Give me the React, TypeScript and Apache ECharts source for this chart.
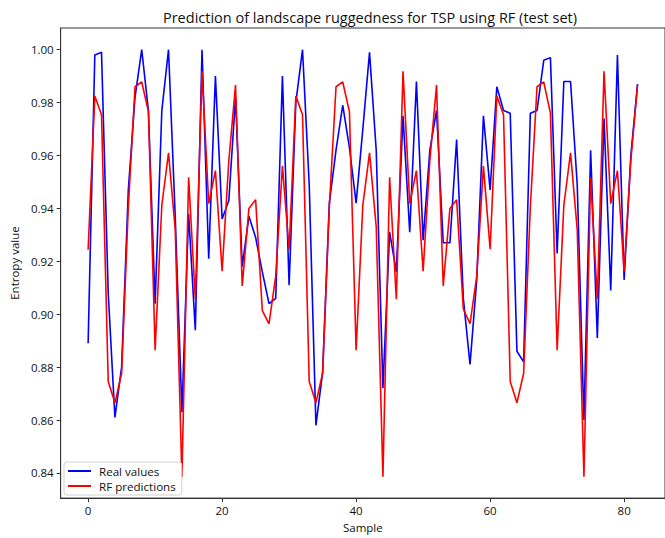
import React, { useEffect, useRef } from "react";
import * as echarts from "echarts";

const titleText = "Prediction of landscape ruggedness for TSP using RF (test set)";
const xLabel = "Sample";
const yLabel = "Entropy value";
const seriesNames = ["Real values", "RF predictions"];
const xTicks = [0, 20, 40, 60, 80];
const yTicks = [0.84, 0.86, 0.88, 0.9, 0.92, 0.94, 0.96, 0.98, 1.0];

const realValues = [
  0.889, 0.998, 0.999, 0.908, 0.861, 0.880, 0.947, 0.982, 1.000, 0.977,
  0.904, 0.977, 1.000, 0.937, 0.863, 0.938, 0.894, 1.000, 0.921, 0.990,
  0.936, 0.943, 0.982, 0.918, 0.937, 0.929, 0.916, 0.904, 0.906, 0.990,
  0.911, 0.980, 1.000, 0.949, 0.858, 0.878, 0.942, 0.962, 0.979, 0.963,
  0.942, 0.970, 0.999, 0.962, 0.872, 0.931, 0.916, 0.975, 0.931, 0.988,
  0.928, 0.962, 0.977, 0.927, 0.927, 0.966, 0.906, 0.881, 0.913, 0.975,
  0.947, 0.986, 0.977, 0.976, 0.886, 0.882, 0.976, 0.977, 0.996, 0.997,
  0.923, 0.988, 0.988, 0.949, 0.860, 0.962, 0.891, 0.974, 0.909, 0.998,
  0.913, 0.960, 0.987,
];

const rfPredictions = [
  0.9244, 0.9825, 0.9754, 0.8746, 0.8665, 0.8777, 0.9405, 0.986, 0.9878, 0.9766,
  0.8864, 0.9412, 0.961, 0.932, 0.8386, 0.9518, 0.9057, 0.9918, 0.9418, 0.9543,
  0.9163, 0.958, 0.9866, 0.9107, 0.94, 0.9433, 0.9014, 0.8964, 0.9144, 0.956,
  0.9244, 0.9825, 0.9754, 0.8746, 0.8665, 0.8777, 0.9405, 0.986, 0.9878, 0.9766,
  0.8864, 0.9412, 0.961, 0.933, 0.8386, 0.9518, 0.9057, 0.9918, 0.9418, 0.9543,
  0.9163, 0.958, 0.9866, 0.9107, 0.94, 0.9433, 0.902, 0.8964, 0.9144, 0.956,
  0.9246, 0.9825, 0.9754, 0.8746, 0.8665, 0.8777, 0.9405, 0.986, 0.9878, 0.976,
  0.8864, 0.9412, 0.961, 0.932, 0.8386, 0.9518, 0.9057, 0.9918, 0.9418, 0.9543,
  0.9163, 0.958, 0.9866,
];

const FONT = "'Open Sans', 'DejaVu Sans', sans-serif";

export default function App() {
  const ref = useRef<HTMLDivElement>(null);
  useEffect(() => {
    if (!ref.current) return;
    const chart = echarts.init(ref.current, undefined, { renderer: "svg" });
    const pairs = (arr: number[]) => arr.map((v, i) => [i, v]);
    chart.setOption({
      animation: false,
      backgroundColor: "#ffffff",
      textStyle: { fontFamily: FONT },
      title: {
        text: titleText,
        left: 365,
        top: 5,
        textAlign: "center",
        textStyle: { fontFamily: FONT, fontSize: 14.5, fontWeight: "normal", color: "#111" },
      },
      grid: {
        left: 59,
        top: 28,
        width: 612,
        height: 475,
        show: true,
        borderColor: "#333",
        borderWidth: 1,
        backgroundColor: "transparent",
      },
      legend: {
        orient: "vertical",
        left: 64,
        top: 462,
        padding: [3, 6, 3, 4],
        itemGap: 3,
        itemWidth: 23,
        itemHeight: 2,
        icon: "rect",
        borderColor: "#d0d0d0",
        borderWidth: 1,
        borderRadius: 3,
        backgroundColor: "rgba(255,255,255,0.8)",
        textStyle: { fontFamily: FONT, fontSize: 11.6, color: "#111", padding: [0, 0, 0, 3] },
        data: seriesNames,
      },
      xAxis: {
        type: "value",
        min: -4.1,
        max: 86.1,
        name: xLabel,
        nameLocation: "middle",
        nameGap: 18,
        nameTextStyle: { fontFamily: FONT, fontSize: 11.5, color: "#111" },
        axisLine: { show: true, onZero: false, lineStyle: { color: "#333", width: 1 } },
        axisTick: { show: true, length: 4, customValues: xTicks, lineStyle: { color: "#333" } },
        axisLabel: {
          customValues: xTicks,
          margin: 6,
          fontFamily: FONT,
          fontSize: 11.5,
          color: "#111",
          formatter: (v: number) => String(Math.round(v)),
        },
        splitLine: { show: false },
      },
      yAxis: {
        type: "value",
        min: 0.8305,
        max: 1.0082,
        name: yLabel,
        nameLocation: "middle",
        nameGap: 38,
        nameRotate: 90,
        nameTextStyle: { fontFamily: FONT, fontSize: 11.5, color: "#111" },
        axisLine: { show: true, onZero: false, lineStyle: { color: "#333", width: 1 } },
        axisTick: { show: true, length: 4, customValues: yTicks, lineStyle: { color: "#333" } },
        axisLabel: {
          customValues: yTicks,
          margin: 7,
          fontFamily: FONT,
          fontSize: 11.5,
          color: "#111",
          formatter: (v: number) => v.toFixed(2),
        },
        splitLine: { show: false },
      },
      series: [
        {
          name: seriesNames[0],
          type: "line",
          data: pairs(realValues),
          showSymbol: false,
          symbol: "none",
          color: "#0000ff",
          lineStyle: { color: "#0000ff", width: 1.6 },
          z: 2,
        },
        {
          name: seriesNames[1],
          type: "line",
          data: pairs(rfPredictions),
          showSymbol: false,
          symbol: "none",
          color: "#ff0000",
          lineStyle: { color: "#ff0000", width: 1.6 },
          z: 3,
        },
      ],
    });
    return () => chart.dispose();
  }, []);
  return (
    <div
      ref={ref}
      style={{ position: "fixed", left: 0, top: 0, width: 665, height: 538, background: "#fff" }}
    />
  );
}
